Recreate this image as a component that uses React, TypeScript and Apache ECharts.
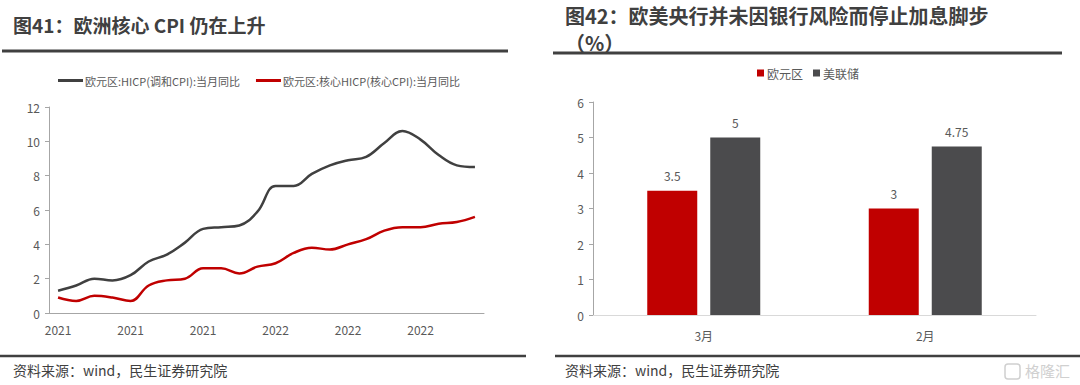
import React, { useEffect, useRef } from "react";
import * as echarts from "echarts";

const months = [
  "2021-03", "2021-04", "2021-05", "2021-06", "2021-07", "2021-08", "2021-09", "2021-10",
  "2021-11", "2021-12", "2022-01", "2022-02", "2022-03", "2022-04", "2022-05", "2022-06",
  "2022-07", "2022-08", "2022-09", "2022-10", "2022-11", "2022-12", "2023-01", "2023-02",
];
const hicp = [1.3, 1.6, 2.0, 1.9, 2.2, 3.0, 3.4, 4.1, 4.9, 5.0, 5.1, 5.9, 7.4, 7.4, 8.1, 8.6, 8.9, 9.1, 9.9, 10.6, 10.1, 9.2, 8.6, 8.5];
const coreHicp = [0.9, 0.7, 1.0, 0.9, 0.7, 1.6, 1.9, 2.0, 2.6, 2.6, 2.3, 2.7, 2.9, 3.5, 3.8, 3.7, 4.0, 4.3, 4.8, 5.0, 5.0, 5.2, 5.3, 5.6];

const barCategories = ["3月", "2月"];
const ecbRates = [3.5, 3];
const fedRates = [5, 4.75];

const leftTitle = "图41：欧洲核心 CPI 仍在上升";
const rightTitle1 = "图42：欧美央行并未因银行风险而停止加息脚步";
const rightTitle2 = "（%）";
const sourceText = "资料来源：wind，民生证券研究院";

export default function App() {
  const ref = useRef<HTMLDivElement>(null);
  useEffect(() => {
    document.body.style.margin = "0";
    const chart = echarts.init(ref.current!, undefined, { renderer: "svg" });
    const font = "'Noto Sans CJK SC', 'Noto Sans', sans-serif";
    const axisGray = "#a6a6a6";
    const labelGray = "#595959";
    chart.setOption({
      animation: false,
      textStyle: { fontFamily: font },
      grid: [
        { left: 49, top: 107, width: 435, height: 206 },
        { left: 593, top: 102, width: 443, height: 213 },
      ],
      legend: [
        {
          data: ["欧元区:HICP(调和CPI):当月同比", "欧元区:核心HICP(核心CPI):当月同比"],
          left: 53,
          top: 70,
          icon: "rect",
          itemWidth: 25,
          itemHeight: 3,
          itemGap: 16,
          textStyle: { fontSize: 11, color: labelGray, fontFamily: font, padding: [0, 0, 0, -3] },
        },
        {
          data: ["欧元区", "美联储"],
          left: 752,
          top: 62,
          icon: "rect",
          itemWidth: 7,
          itemHeight: 7,
          itemGap: 10,
          textStyle: { fontSize: 12, color: labelGray, fontFamily: font, padding: [0, 0, 0, -2] },
        },
      ],
      xAxis: [
        {
          type: "category",
          gridIndex: 0,
          data: months,
          boundaryGap: true,
          axisLine: { lineStyle: { color: axisGray } },
          axisTick: { interval: 3, length: 4, lineStyle: { color: axisGray } },
          axisLabel: {
            interval: 3,
            color: labelGray,
            fontSize: 12,
            margin: 10,
            formatter: (v: string) => v.slice(0, 4),
          },
        },
        {
          type: "category",
          gridIndex: 1,
          data: barCategories,
          axisLine: { lineStyle: { color: "#d9d9d9" } },
          axisTick: { show: false },
          axisLabel: { color: labelGray, fontSize: 12, margin: 14 },
        },
      ],
      yAxis: [
        {
          type: "value",
          gridIndex: 0,
          min: 0,
          max: 12,
          interval: 2,
          axisLine: { show: true, lineStyle: { color: axisGray } },
          axisTick: { show: true, length: 4, lineStyle: { color: axisGray } },
          axisLabel: { color: labelGray, fontSize: 12, margin: 9 },
          splitLine: { show: false },
        },
        {
          type: "value",
          gridIndex: 1,
          min: 0,
          max: 6,
          interval: 1,
          axisLine: { show: true, lineStyle: { color: axisGray } },
          axisTick: { show: true, length: 4, lineStyle: { color: axisGray } },
          axisLabel: { color: labelGray, fontSize: 12, margin: 9 },
          splitLine: { show: false },
        },
      ],
      series: [
        {
          name: "欧元区:HICP(调和CPI):当月同比",
          type: "line",
          xAxisIndex: 0,
          yAxisIndex: 0,
          data: hicp,
          smooth: 0.4,
          symbol: "none",
          itemStyle: { color: "#404040" },
          lineStyle: { color: "#404040", width: 2.5 },
        },
        {
          name: "欧元区:核心HICP(核心CPI):当月同比",
          type: "line",
          xAxisIndex: 0,
          yAxisIndex: 0,
          data: coreHicp,
          smooth: 0.4,
          symbol: "none",
          itemStyle: { color: "#c00000" },
          lineStyle: { color: "#c00000", width: 2.5 },
        },
        {
          name: "欧元区",
          type: "bar",
          xAxisIndex: 1,
          yAxisIndex: 1,
          data: ecbRates,
          barWidth: 50,
          barGap: "26%",
          itemStyle: { color: "#c00000" },
          label: { show: true, position: "top", distance: 9, color: labelGray, fontSize: 12 },
        },
        {
          name: "美联储",
          type: "bar",
          xAxisIndex: 1,
          yAxisIndex: 1,
          data: fedRates,
          barWidth: 50,
          barGap: "26%",
          itemStyle: { color: "#4b4b4d" },
          label: { show: true, position: "top", distance: 9, color: labelGray, fontSize: 12 },
        },
      ],
      graphic: [
        {
          type: "text",
          left: 13,
          top: 15,
          style: { text: leftTitle, fontSize: 19, fontWeight: "bold", fill: "#404040", fontFamily: font },
        },
        {
          type: "text",
          left: 565,
          top: 2,
          style: {
            text: rightTitle1 + "\n" + rightTitle2,
            fontSize: 20,
            lineHeight: 27,
            fontWeight: "bold",
            fill: "#404040",
            fontFamily: font,
          },
        },
        { type: "line", shape: { x1: 2, y1: 51, x2: 508, y2: 51 }, style: { stroke: "#404040", lineWidth: 3 } },
        { type: "line", shape: { x1: 553, y1: 53, x2: 1062, y2: 53 }, style: { stroke: "#404040", lineWidth: 3 } },
        { type: "line", shape: { x1: 0, y1: 356, x2: 526, y2: 356 }, style: { stroke: "#404040", lineWidth: 2.5 } },
        { type: "line", shape: { x1: 555, y1: 356, x2: 1080, y2: 356 }, style: { stroke: "#404040", lineWidth: 2.5 } },
        {
          type: "text",
          left: 13,
          top: 363,
          style: { text: sourceText, fontSize: 14, fill: "#404040", fontFamily: font },
        },
        {
          type: "text",
          left: 565,
          top: 363,
          style: { text: sourceText, fontSize: 14, fill: "#404040", fontFamily: font },
        },
        {
          type: "rect",
          shape: { x: 1005, y: 364, width: 15, height: 15, r: 3 },
          style: { fill: "none", stroke: "#d0d0d0", lineWidth: 1.5 },
        },
        {
          type: "text",
          left: 1025,
          top: 363,
          style: { text: "格隆汇", fontSize: 15, fill: "#d0d0d0", fontFamily: font },
        },
      ],
    });
    return () => chart.dispose();
  }, []);
  return <div ref={ref} style={{ width: 1080, height: 385 }} />;
}
